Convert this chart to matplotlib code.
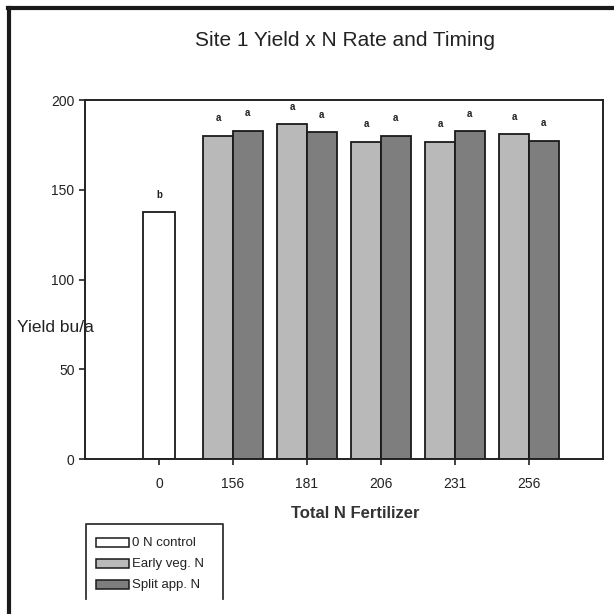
import matplotlib
matplotlib.use("Agg")
import matplotlib.pyplot as plt
import numpy as np
from matplotlib.lines import Line2D
from matplotlib.patches import Rectangle

# data
n_rates = ["0", "156", "181", "206", "231", "256"]
control_yield = 137.4
early_veg = [180.0, 186.6, 176.8, 176.8, 180.9]
split_app = [182.9, 182.0, 180.0, 182.7, 177.2]
control_letter = "b"
early_letters = ["a", "a", "a", "a", "a"]
split_letters = ["a", "a", "a", "a", "a"]

plt.rcParams['font.family'] = ['Liberation Sans', 'DejaVu Sans']

fig = plt.figure(figsize=(6.14, 6.14), dpi=100)
ax = fig.add_axes([0.1384, 0.2524, 0.8436, 0.5847])

x = np.arange(len(n_rates))
w = 0.4
ec = "#1a1a1a"

ax.bar(x[0], control_yield, width=w + 0.03, color="white", edgecolor=ec, linewidth=1.3)
ax.bar(x[1:] - w / 2, early_veg, width=w, color="#b9b9b9", edgecolor=ec, linewidth=1.3)
ax.bar(x[1:] + w / 2, split_app, width=w, color="#7e7e7e", edgecolor=ec, linewidth=1.3)

# significance letters
off = 7
ax.text(x[0], control_yield + off, control_letter, ha="center", va="bottom", fontsize=7, fontweight="bold", color="#222222")
for i in range(len(early_veg)):
    ax.text(x[i + 1] - w / 2, early_veg[i] + off, early_letters[i], ha="center", va="bottom", fontsize=7, fontweight="bold", color="#222222")
    ax.text(x[i + 1] + w / 2, split_app[i] + off, split_letters[i], ha="center", va="bottom", fontsize=7, fontweight="bold", color="#222222")

ax.set_xlim(-1, 6)
ax.set_ylim(0, 200)
ax.set_yticks([0, 50, 100, 150, 200])
ax.set_xticks(x)
ax.set_xticklabels(n_rates)
ax.tick_params(axis="both", direction="out", length=4, width=1.2, labelsize=10, colors="#222222")
ax.tick_params(axis="x", pad=9)
for s in ax.spines.values():
    s.set_linewidth(1.4)
    s.set_color("#222222")

fig.text(0.562, 0.934, "Site 1 Yield x N Rate and Timing", ha="center", va="center", fontsize=15, color="#222222")
fig.text(0.578, 0.164, "Total N Fertilizer", ha="center", va="center", fontsize=12, fontweight="semibold", color="#333333")
fig.text(0.027, 0.467, "Yield bu/a", ha="left", va="center", fontsize=12.5, color="#222222")

# outer frame: top and left lines only
fig.add_artist(Line2D([0.013, 1.0], [0.987, 0.987], transform=fig.transFigure, color="#1a1a1a", linewidth=3))
fig.add_artist(Line2D([0.015, 0.015], [0.0, 0.987], transform=fig.transFigure, color="#1a1a1a", linewidth=3))

# legend box (cut off at the bottom)
lx0, lx1, ly0, ly1 = 86 / 614, 223 / 614, 1 - 599 / 614, 1 - 524 / 614
fig.add_artist(Line2D([lx0, lx0, lx1, lx1], [ly0, ly1, ly1, ly0], transform=fig.transFigure, color="#333333", linewidth=1.3))
labels = ["0 N control", "Early veg. N", "Split app. N"]
colors = ["white", "#b9b9b9", "#7e7e7e"]
for k in range(3):
    yc = 1 - (543 + 21 * k) / 614
    fig.add_artist(Rectangle((96 / 614, yc - 4 / 614), 33 / 614, 9 / 614, transform=fig.transFigure,
                             facecolor=colors[k], edgecolor=ec, linewidth=1.1))
    fig.text(132 / 614, yc, labels[k], ha="left", va="center", fontsize=9.5, color="#222222")

fig.savefig("out.png", dpi=100)
